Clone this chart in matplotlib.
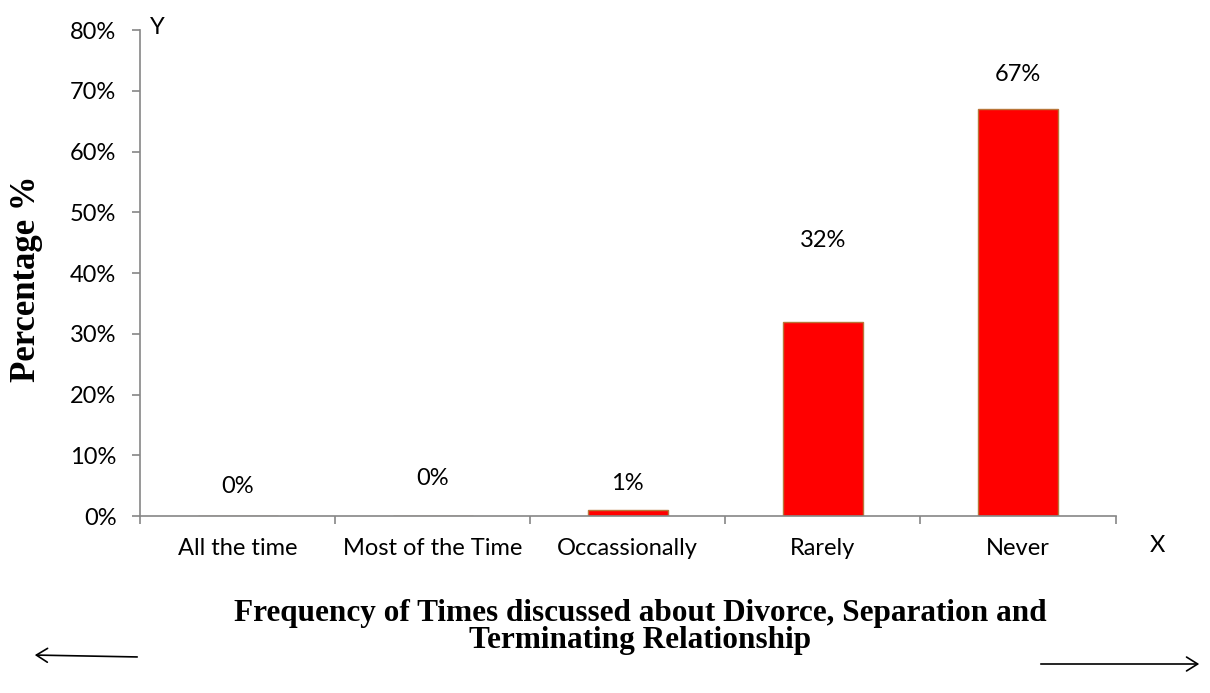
import numpy as np
import matplotlib
matplotlib.use("Agg")
import matplotlib.pyplot as plt
from matplotlib.ticker import PercentFormatter, FixedLocator

categories = ["All the time", "Most of the Time", "Occassionally", "Rarely", "Never"]
percent = [0, 0, 1, 32, 67]
labels = ["0%", "0%", "1%", "32%", "67%"]
# where Excel put the data labels (same units as the y axis)
label_y = [4.9, 6.1, 5.4, 45.4, 72.6]

axis_grey = "#868686"
fs = 17

fig = plt.figure(figsize=(12.1, 6.93), dpi=100)
ax = fig.add_axes([0.1157, 0.2554, 0.922 - 0.1157, 0.9567 - 0.2554])

x = np.arange(len(categories))
ax.bar(x, percent, width=0.41, color="#ff0000", edgecolor="#b8763a", linewidth=1)

for xi, ly, lab in zip(x, label_y, labels):
    ax.text(xi, ly, lab, ha="center", va="center", fontsize=fs, family="Lato")

ax.set_xlim(-0.5, len(categories) - 0.5)
ax.set_ylim(0, 80)
ax.set_yticks(np.arange(0, 81, 10))
ax.yaxis.set_major_formatter(PercentFormatter(decimals=0))
ax.set_xticks(x)
ax.set_xticklabels(categories)
ax.xaxis.set_minor_locator(FixedLocator(np.arange(-0.5, len(categories), 1)))
ax.tick_params(axis="x", which="major", length=0, pad=16)
ax.tick_params(axis="x", which="minor", length=6, color=axis_grey, width=1.2)
ax.tick_params(axis="y", length=6, color=axis_grey, width=1.2, pad=11)
for t in ax.get_xticklabels() + ax.get_yticklabels():
    t.set_fontsize(fs)
    t.set_family("Lato")

for s in ["top", "right"]:
    ax.spines[s].set_visible(False)
for s in ["left", "bottom"]:
    ax.spines[s].set_color(axis_grey)
    ax.spines[s].set_linewidth(1.2)

fig.text(27 / 1210, 1 - 279 / 693, "Percentage %", rotation=90, ha="center", va="center",
         fontsize=25, fontweight="bold", family="Liberation Serif")

fig.text(150 / 1210, 1 - 28 / 693, "Y", fontsize=17, family="Lato", va="center", ha="left")
fig.text(1150 / 1210, 1 - 546 / 693, "X", fontsize=17, family="Lato", va="center", ha="left")

fig.text(640 / 1210, 1 - 627 / 693,
         "Frequency of Times discussed about Divorce, Separation and\nTerminating Relationship",
         ha="center", va="center", fontsize=22.5, fontweight="bold", family="Liberation Serif",
         linespacing=0.9)

fig.add_artist(matplotlib.patches.FancyArrowPatch(
    (140 / 1210, 1 - 657 / 693), (32 / 1210, 1 - 655 / 693), transform=fig.transFigure,
    arrowstyle="->,head_length=8,head_width=5", color="black", linewidth=1.2))
fig.add_artist(matplotlib.patches.FancyArrowPatch(
    (1038 / 1210, 1 - 664 / 693), (1202 / 1210, 1 - 664 / 693), transform=fig.transFigure,
    arrowstyle="->,head_length=8,head_width=5", color="black", linewidth=1.2))

fig.savefig("out.png", dpi=100, facecolor="white")
